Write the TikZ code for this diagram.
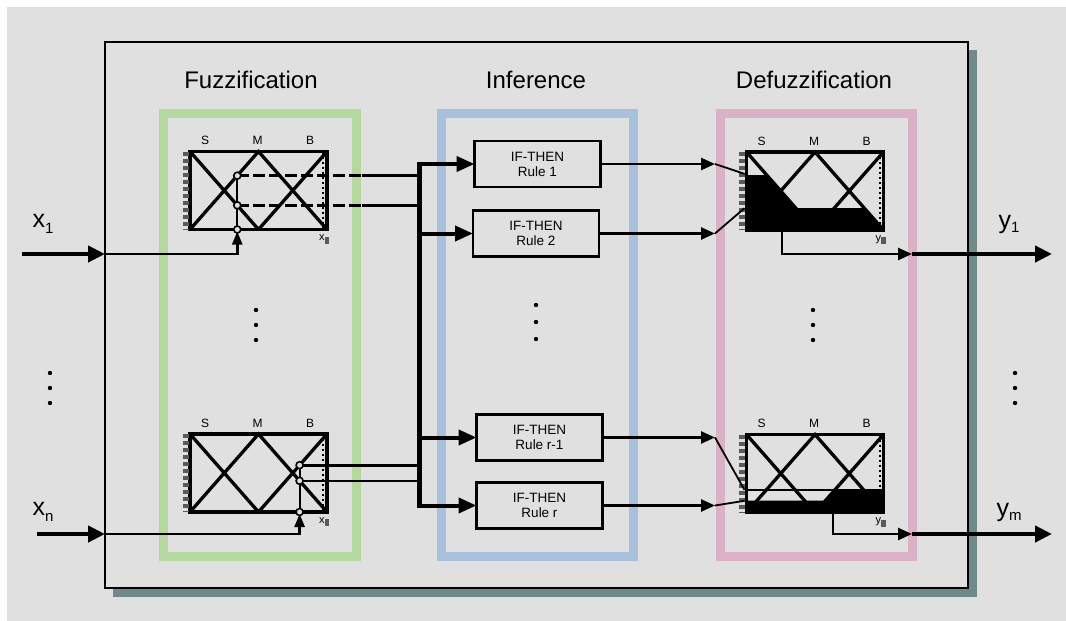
\documentclass[tikz,border=0pt]{standalone}
\usepackage{fontspec}
\setmainfont{Liberation Sans}
\usetikzlibrary{arrows.meta,calc}
\definecolor{bggray}{HTML}{E0E0E0}
\definecolor{shadowc}{HTML}{6E8A8A}
\definecolor{fgreen}{HTML}{B4D8A0}
\definecolor{iblue}{HTML}{A9C0DC}
\definecolor{dpink}{HTML}{DBB1C6}
\definecolor{tickgray}{HTML}{5A5A5A}
\tikzset{
  mfbox/.style={draw, line width=3.5pt, minimum width=137pt, minimum height=78pt, inner sep=0pt, outer sep=0pt},
  mfline/.style={line width=3.3pt},
  rulebox/.style={draw, line width=2.5pt, minimum width=126pt, minimum height=46pt, inner sep=0pt, outer sep=0pt, align=center, font=\fontsize{13.5}{15}\selectfont},
  frame/.style={draw, line width=9pt, inner sep=0pt, outer sep=0pt},
  title/.style={font=\fontsize{24}{28}\selectfont},
  smb/.style={font=\fontsize{12}{13}\selectfont},
  conn/.style={line width=2.5pt},
  thickarrow/.style={line width=4.5pt, -{Triangle[length=17pt,width=16pt]}},
  busarrow/.style={line width=4pt, -{Triangle[length=18pt,width=15pt]}},
  outarrow/.style={line width=2.5pt, -{Triangle[length=14pt,width=12pt]}},
  uparrow/.style={line width=2.5pt, -{Triangle[length=13pt,width=10pt]}, shorten >=2pt},
  circ/.style={circle, draw, line width=1.6pt, fill=bggray, minimum size=7pt, inner sep=0pt},
  iolabel/.style={font=\fontsize{25}{28}\selectfont, inner sep=0pt},
  tiny/.style={font=\fontsize{11}{12}\selectfont, inner sep=0pt},
}
\newcommand\MFBox[3]{%
  \node[mfbox] (#1) at (#2,#3) {};
  \draw[mfline] (#1.north west) -- (#1.south) (#1.south west) -- (#1.north) -- (#1.south east) (#1.south) -- (#1.north east);
  \draw[tickgray, line width=6pt, dash pattern=on 4pt off 3pt] ([xshift=-4.5pt]#1.north west) -- ([xshift=-4.5pt]#1.south west);
  \draw[line width=2pt, dash pattern=on 2pt off 3pt] ([xshift=-4pt]#1.north east) -- ([xshift=-4pt]#1.south east);
  \node[smb] (#1S) at ($(#1.north west)+(15,-11)$) {S};
  \node[smb] (#1M) at ($(#1.north)+(-1,-11)$) {M};
  \node[smb] (#1B) at ($(#1.north east)+(-17,-11)$) {B};
}
\newcommand\dotcol[3]{%
  \fill (#1,#2) circle (2.2pt);
  \fill (#1,#2+#3) circle (2.2pt);
  \fill (#1,#2+2*#3) circle (2.2pt);
}
\begin{document}
\begin{tikzpicture}[x=1pt,y=-1pt]
\useasboundingbox (0,0) rectangle (1066,621);
\fill[white] (0,0) rectangle (1066,621);
\fill[bggray] (7,7) rectangle (1066,621);
\fill[shadowc] (113,50) rectangle (977,597);
\node[draw, line width=2.5pt, fill=bggray, minimum width=863pt, minimum height=546pt, inner sep=0pt, outer sep=0pt] (main) at (536.5,315) {};

% coloured frames
\node[frame, draw=fgreen, minimum width=192.5pt, minimum height=443pt] (fz) at (259.75,335) {};
\node[frame, draw=iblue, minimum width=192.5pt, minimum height=443pt] (inf) at (537.25,335) {};
\node[frame, draw=dpink, minimum width=192pt, minimum height=443pt] (dfz) at (816,335) {};

% titles
\node[title] (tfz) at (251,80) {Fuzzification};
\node[title] (tinf) at (536,80) {Inference};
\node[title] (tdfz) at (814,80) {Defuzzification};

% fuzzification boxes
\MFBox{F1}{258.5}{190.5}
\MFBox{F2}{258.5}{473}
\node[tiny] (F1x) at ($(F1.south east)+(-3,10)$) {x\textcolor{tickgray}{\rule[-3pt]{4.5pt}{7pt}}};
\node[tiny] (F2x) at ($(F2.south east)+(-3,10)$) {x\textcolor{tickgray}{\rule[-3pt]{4.5pt}{7pt}}};

% defuzzification boxes (filled regions first)
\begin{scope}[shift={(815,191)}]
  \fill (-68,-16) -- (-48,-16) -- (-19.2,17) -- (48.8,17) -- (68,39) -- (-68,39) -- cycle;
\end{scope}
\begin{scope}[shift={(815,473.5)}]
  \fill (-68,27) -- (10.5,27) -- (19.6,16.5) -- (68,16.5) -- (68,39) -- (-68,39) -- cycle;
  \draw[line width=1.5pt] (-68,16.5) -- (68,16.5);
\end{scope}
\MFBox{D1}{815}{191}
\MFBox{D2}{815}{473.5}
\node[tiny] (D1y) at ($(D1.south east)+(-3,10)$) {y\textcolor{tickgray}{\rule[-3pt]{4.5pt}{7pt}}};
\node[tiny] (D2y) at ($(D2.south east)+(-3,10)$) {y\textcolor{tickgray}{\rule[-3pt]{4.5pt}{7pt}}};

% rules
\node[rulebox] (R1) at (537.5,164) {IF-THEN\\Rule 1};
\node[rulebox] (R2) at (536,233.5) {IF-THEN\\Rule 2};
\node[rulebox] (Rr1) at (539.5,437.5) {IF-THEN\\Rule r-1};
\node[rulebox] (Rr) at (539.5,505.5) {IF-THEN\\Rule r};

% key coordinates
\coordinate (bus) at (419,0);
\coordinate (dashend) at (362,0);
\coordinate (pin) at (715,0);
\coordinate (pout) at (912,0);
\coordinate (x1in) at (22,254);
\coordinate (xnin) at (37,534);
\coordinate (y1end) at (1052,254);
\coordinate (ymend) at (1052,534);

% intersection points on fuzzy sets
\coordinate (a1) at ($(F1.south west)!0.69!(F1.north)$);
\coordinate (b1) at ($(F1.north west)!0.69!(F1.south)$);
\coordinate (c1) at (a1 |- F1.south);
\coordinate (a2) at ($(F2.south)!0.6!(F2.north east)$);
\coordinate (b2) at ($(F2.north)!0.6!(F2.south east)$);
\coordinate (c2) at (a2 |- F2.south);

% inputs
\draw[thickarrow] (x1in) -- (x1in -| main.west);
\draw[thickarrow] (xnin) -- (xnin -| main.west);
\draw[uparrow] (x1in -| main.west) -| (c1);
\draw[uparrow] (xnin -| main.west) -| (c2);
\draw[line width=2pt] (c1) -- (a1);
\draw[line width=2pt] (c2) -- (a2);

% lines to the bus
\draw[conn, dash pattern=on 12pt off 4pt] (a1) -- (a1 -| dashend);
\draw[conn] (a1 -| dashend) -- (a1 -| bus);
\draw[conn, dash pattern=on 12pt off 4pt] (b1) -- (b1 -| dashend);
\draw[conn] (b1 -| dashend) -- (b1 -| bus);
\draw[line width=3pt] (a2) -- (a2 -| bus);
\draw[line width=2pt] (b2) -- (b2 -| bus);

\node[circ] (ca1) at (a1) {};
\node[circ] (cb1) at (b1) {};
\node[circ] (cc1) at (c1) {};
\node[circ] (ca2) at (a2) {};
\node[circ] (cb2) at (b2) {};
\node[circ] (cc2) at (c2) {};

% bus
\draw[line width=5pt, line cap=rect] (R1.west -| bus) -- (Rr.west -| bus);
\draw[busarrow] (R1.west -| bus) -- (R1.west);
\draw[busarrow] (R2.west -| bus) -- (R2.west);
\draw[busarrow] (Rr1.west -| bus) -- (Rr1.west);
\draw[busarrow] (Rr.west -| bus) -- (Rr.west);

% rule outputs
\draw[outarrow] (R1.east) -- (R1.east -| pin);
\draw[outarrow] (R2.east) -- (R2.east -| pin);
\draw[outarrow] (Rr1.east) -- (Rr1.east -| pin);
\draw[outarrow] (Rr.east) -- (Rr.east -| pin);
\draw[line width=1.8pt] (R1.east -| pin) -- ([xshift=-2pt]$(D1.north west)!0.28!(D1.south west)$);
\draw[line width=1.8pt] (R2.east -| pin) -- ([xshift=-2pt]$(D1.north west)!0.72!(D1.south west)$);
\draw[line width=1.8pt] (Rr1.east -| pin) -- ([xshift=-2pt]$(D2.north west)!0.71!(D2.south west)$);
\draw[line width=1.8pt] (Rr.east -| pin) -- ([xshift=-2pt]$(D2.north west)!0.85!(D2.south west)$);

% defuzzified outputs
\coordinate (o1) at ($(D1.south west)!0.26!(D1.south east)$);
\coordinate (o2) at ($(D2.south west)!0.63!(D2.south east)$);
\draw[outarrow] (o1) |- (y1end -| pout);
\draw[outarrow] (o2) |- (ymend -| pout);
\draw[thickarrow] (y1end -| pout) -- (y1end);
\draw[thickarrow] (ymend -| pout) -- (ymend);

% labels
\node[iolabel] (lx1) at (43,224) {x\raisebox{-6pt}{\fontsize{15}{15}\selectfont 1}};
\node[iolabel] (lxn) at (43,512) {x\raisebox{-6pt}{\fontsize{15}{15}\selectfont n}};
\node[iolabel] (ly1) at (1009,224) {y\raisebox{-4pt}{\fontsize{15}{15}\selectfont 1}};
\node[iolabel] (lym) at (1009,512) {y\raisebox{-4pt}{\fontsize{15}{15}\selectfont m}};

% vertical ellipses
\dotcol{256}{310}{15}
\dotcol{536}{305}{17}
\dotcol{813}{310}{15}
\dotcol{50}{373}{15}
\dotcol{1015}{373}{15}
\end{tikzpicture}
\end{document}
